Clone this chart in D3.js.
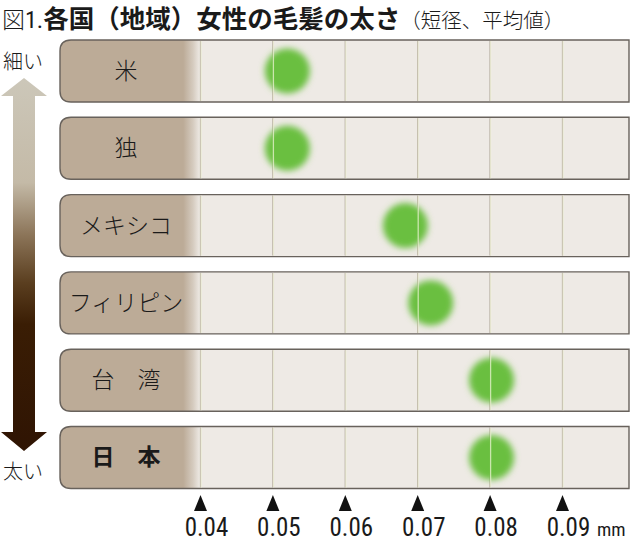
<!DOCTYPE html>
<html>
<head>
<meta charset="utf-8">
<script src="https://cdn.jsdelivr.net/npm/d3@7"></script>
<style>
  html, body { margin: 0; padding: 0; background: #fff; }
  svg { display: block; }
  text { font-family: "Noto Sans CJK JP", sans-serif; fill: #1a1a1a; }
</style>
</head>
<body>
<div id="chart"></div>
<script>
// データ（短径の平均値, mm）
const countries = ["米", "独", "メキシコ", "フィリピン", "台　湾", "日　本"];
const values = [0.052, 0.052, 0.0683, 0.0718, 0.0802, 0.0802];
const ticks = [0.04, 0.05, 0.06, 0.07, 0.08, 0.09];
const boldRows = ["日　本"];

const W = 630, H = 539;
const rowLeft = 60, rowRight = 629, labelEnd = 200;
const narrowFont = '"Liberation Sans Narrow", "Roboto Condensed", "DejaVu Sans Condensed", sans-serif';

const svg = d3.select("#chart").append("svg")
    .attr("width", W)
    .attr("height", H);

const defs = svg.append("defs");

// ラベル部分のグラデーション（右端でぼかす）
const lg = defs.append("linearGradient")
    .attr("id", "labelFade")
    .attr("gradientUnits", "userSpaceOnUse")
    .attr("x1", rowLeft).attr("x2", labelEnd).attr("y1", 0).attr("y2", 0);
lg.append("stop").attr("offset", 0).attr("stop-color", "#bcab97");
lg.append("stop").attr("offset", 0.88).attr("stop-color", "#bcab97");
lg.append("stop").attr("offset", 0.95).attr("stop-color", "#d5cbbf");
lg.append("stop").attr("offset", 1).attr("stop-color", "#eeeae5");

// 矢印のグラデーション
const ag = defs.append("linearGradient")
    .attr("id", "arrowGrad")
    .attr("x1", 0).attr("x2", 0).attr("y1", 0).attr("y2", 1);
[[0, "#ccc7b9"], [0.28, "#c4baa7"], [0.42, "#8c7559"], [0.55, "#5a3e1f"],
 [0.66, "#3a1d04"], [1, "#2f1403"]].forEach(s => {
    ag.append("stop").attr("offset", s[0]).attr("stop-color", s[1]);
});

// 点のぼかし
defs.append("filter")
    .attr("id", "blur")
    .attr("x", "-50%").attr("y", "-50%").attr("width", "200%").attr("height", "200%")
    .append("feGaussianBlur")
    .attr("stdDeviation", 3);

// スケール
const x = d3.scaleLinear()
    .domain([0.04, 0.09])
    .range([200.5, 562.5]);

const y = d3.scaleBand()
    .domain(countries)
    .range([40, 488.5])
    .paddingInner(0.198)
    .paddingOuter(0);

// タイトル
const title = svg.append("text")
    .attr("x", 2)
    .attr("y", 28);
title.append("tspan").attr("font-size", 23).attr("font-weight", 300).text("図");
title.append("tspan").attr("font-size", 24).attr("font-weight", 400)
    .style("font-family", narrowFont).text("1.");
title.append("tspan").attr("font-size", 25.5).attr("font-weight", 700).text("各国（地域）女性の毛髪の太さ");
title.append("tspan").attr("font-size", 20.5).attr("font-weight", 300).text("（短径、平均値）");

// 行の背景
const rows = svg.append("g").selectAll("g")
    .data(countries)
    .enter()
    .append("g")
    .attr("transform", d => `translate(0,${y(d)})`);

function rowPath(h) {
    const r = 11;
    return `M${rowRight},0 H${rowLeft + r} Q${rowLeft},0 ${rowLeft},${r}` +
        ` V${h - r} Q${rowLeft},${h} ${rowLeft + r},${h} H${rowRight} Z`;
}

rows.append("path")
    .attr("d", rowPath(y.bandwidth()))
    .attr("fill", "#eeeae5");

rows.append("path")
    .attr("d", rowPath(y.bandwidth()))
    .attr("fill", "url(#labelFade)");

// 目盛り線（下）
rows.selectAll("line.grid")
    .data(ticks)
    .enter()
    .append("line")
    .attr("class", "grid")
    .attr("x1", d => x(d)).attr("x2", d => x(d))
    .attr("y1", 1).attr("y2", y.bandwidth() - 1)
    .attr("stroke", "#aa9f93")
    .attr("stroke-width", 1.2);

// 枠線
rows.append("path")
    .attr("d", rowPath(y.bandwidth()))
    .attr("fill", "none")
    .attr("stroke", "#68625c")
    .attr("stroke-width", 1.4);

// 国名
rows.append("text")
    .attr("x", 126)
    .attr("y", y.bandwidth() / 2 + 8)
    .attr("text-anchor", "middle")
    .attr("font-size", 23)
    .attr("font-weight", d => boldRows.includes(d) ? 700 : 300)
    .text(d => d);

// 点
svg.append("g").selectAll("circle")
    .data(countries.map((c, i) => ({ c, v: values[i] })))
    .enter()
    .append("circle")
    .attr("cx", d => x(d.v))
    .attr("cy", d => y(d.c) + y.bandwidth() / 2)
    .attr("r", 22.5)
    .attr("fill", "#6bbf3f")
    .attr("filter", "url(#blur)");

// 目盛り線（点の上の明るい線）
const hl = svg.append("g").selectAll("g")
    .data(countries)
    .enter()
    .append("g")
    .attr("transform", d => `translate(0,${y(d)})`);

hl.selectAll("line")
    .data(ticks)
    .enter()
    .append("line")
    .attr("x1", d => x(d) + 0.5).attr("x2", d => x(d) + 0.5)
    .attr("y1", 1).attr("y2", y.bandwidth() - 1)
    .attr("stroke", "#f3f7dc")
    .attr("stroke-opacity", 0.7)
    .attr("stroke-width", 1.3);

// 左の矢印
const ax = 24, arrowTop = 78, headTop = 96, headBot = 432, arrowBot = 451;
svg.append("path")
    .attr("d", `M${ax},${arrowTop} L${ax + 23},${headTop} L${ax + 11},${headTop} L${ax + 11},${headBot}` +
        ` L${ax + 23},${headBot} L${ax},${arrowBot} L${ax - 23},${headBot} L${ax - 11},${headBot}` +
        ` L${ax - 11},${headTop} L${ax - 23},${headTop} Z`)
    .attr("fill", "url(#arrowGrad)");

svg.append("text")
    .attr("x", 3).attr("y", 69)
    .attr("font-size", 20)
    .attr("font-weight", 300)
    .text("細い");

svg.append("text")
    .attr("x", 3).attr("y", 479)
    .attr("font-size", 20)
    .attr("font-weight", 300)
    .text("太い");

// 軸の三角と数値
const axis = svg.append("g").selectAll("g")
    .data(ticks)
    .enter()
    .append("g")
    .attr("transform", d => `translate(${x(d)},0)`);

axis.append("path")
    .attr("d", "M0,495 L6.5,511 L-6.5,511 Z")
    .attr("fill", "#111");

axis.append("text")
    .attr("x", 6)
    .attr("y", 536)
    .attr("text-anchor", "middle")
    .attr("font-size", 25)
    .style("font-family", narrowFont)
    .text(d => d3.format(".2f")(d));

svg.append("text")
    .attr("x", 597)
    .attr("y", 536)
    .attr("font-size", 19)
    .style("font-family", narrowFont)
    .text("mm");
</script>
</body>
</html>
